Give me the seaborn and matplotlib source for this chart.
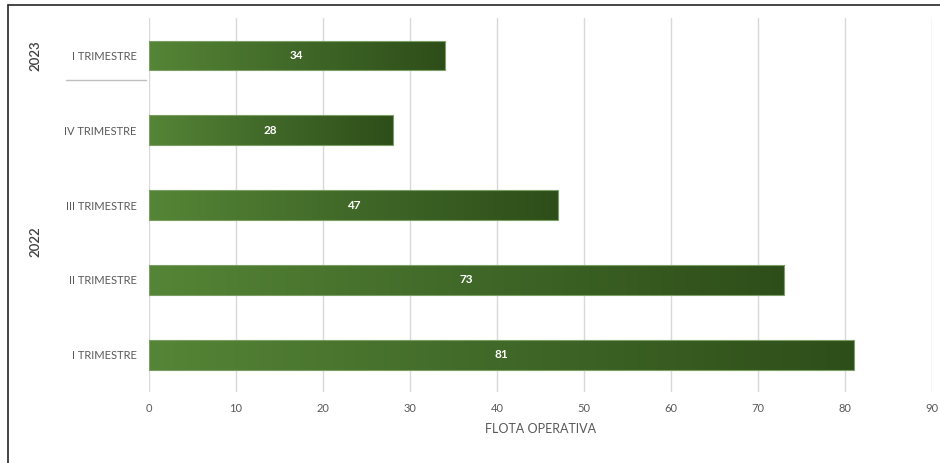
import numpy as np
import pandas as pd
import matplotlib
matplotlib.use("Agg")
import matplotlib.pyplot as plt
from matplotlib.colors import LinearSegmentedColormap
from matplotlib.lines import Line2D
import seaborn as sns

# datos (de arriba hacia abajo)
trimestres = ["I TRIMESTRE", "IV TRIMESTRE", "III TRIMESTRE", "II TRIMESTRE", "I TRIMESTRE"]
anios = ["2023", "2022", "2022", "2022", "2022"]
flota = [34, 28, 47, 73, 81]
ticks_x = [0, 10, 20, 30, 40, 50, 60, 70, 80, 90]

df = pd.DataFrame({"pos": [f"{a}-{t}" for a, t in zip(anios, trimestres)],
                   "flota": flota})

sns.set_style("white")
plt.rcParams["font.family"] = ["Lato", "DejaVu Sans"]

fig = plt.figure(figsize=(9.4, 4.63), dpi=100)
ax = fig.add_axes([0.1585, 0.153, 0.833, 0.808])

sns.barplot(data=df, x="flota", y="pos", orient="h", width=0.4,
            color="#548235", ax=ax, zorder=2)

# degradado verde sobre cada barra
cmap = LinearSegmentedColormap.from_list("verde", ["#558536", "#406828", "#2E4E19"])
grad = np.linspace(0, 1, 256).reshape(1, -1)
for p in ax.patches:
    x0, y0 = p.get_x(), p.get_y()
    w, h = p.get_width(), p.get_height()
    im = ax.imshow(grad, cmap=cmap, aspect="auto", extent=[x0, x0 + w, y0 + h, y0],
                   zorder=3)
    im.set_clip_path(p)
    p.set_edgecolor("#7A9E63")
    p.set_linewidth(0.8)
    p.set_zorder(3.5)
    p.set_facecolor("none")
    ax.text(x0 + w / 2, y0 + h / 2, f"{w:.0f}", color="white", fontsize=8.5,
            fontweight="bold", ha="center", va="center", zorder=4)

ax.set_xlim(0, 90)
ax.set_ylim(4.5, -0.5)
ax.set_xticks(ticks_x)
ax.set_yticks(range(len(trimestres)))
ax.set_yticklabels(trimestres)
ax.tick_params(axis="both", length=0, labelsize=8, labelcolor="#595959")
ax.tick_params(axis="y", pad=9)
ax.tick_params(axis="x", pad=8)
ax.set_ylabel("")
ax.set_xlabel("FLOTA OPERATIVA", fontsize=9, color="#595959", labelpad=6)
ax.grid(axis="x", color="#D9D9D9", linewidth=1, zorder=0)
ax.set_axisbelow(True)
for s in ax.spines.values():
    s.set_visible(False)

# etiquetas de grupo por año
fig.text(35 / 940, 1 - 56 / 463, "2023", rotation=90, ha="center", va="center",
         fontsize=9.5, color="#404040", fontweight="semibold")
fig.text(35 / 940, 1 - 242 / 463, "2022", rotation=90, ha="center", va="center",
         fontsize=9.5, color="#404040", fontweight="semibold")
fig.add_artist(Line2D([66 / 940, 146 / 940], [1 - 80 / 463, 1 - 80 / 463],
                      color="#BFBFBF", linewidth=1))

# marco parcial (arriba e izquierda)
fig.add_artist(Line2D([8 / 940, 1], [1 - 5 / 463, 1 - 5 / 463], color="#262626", linewidth=1.2))
fig.add_artist(Line2D([8 / 940, 8 / 940], [1 - 5 / 463, 0], color="#262626", linewidth=1.2))

fig.savefig("out.png", dpi=100)
